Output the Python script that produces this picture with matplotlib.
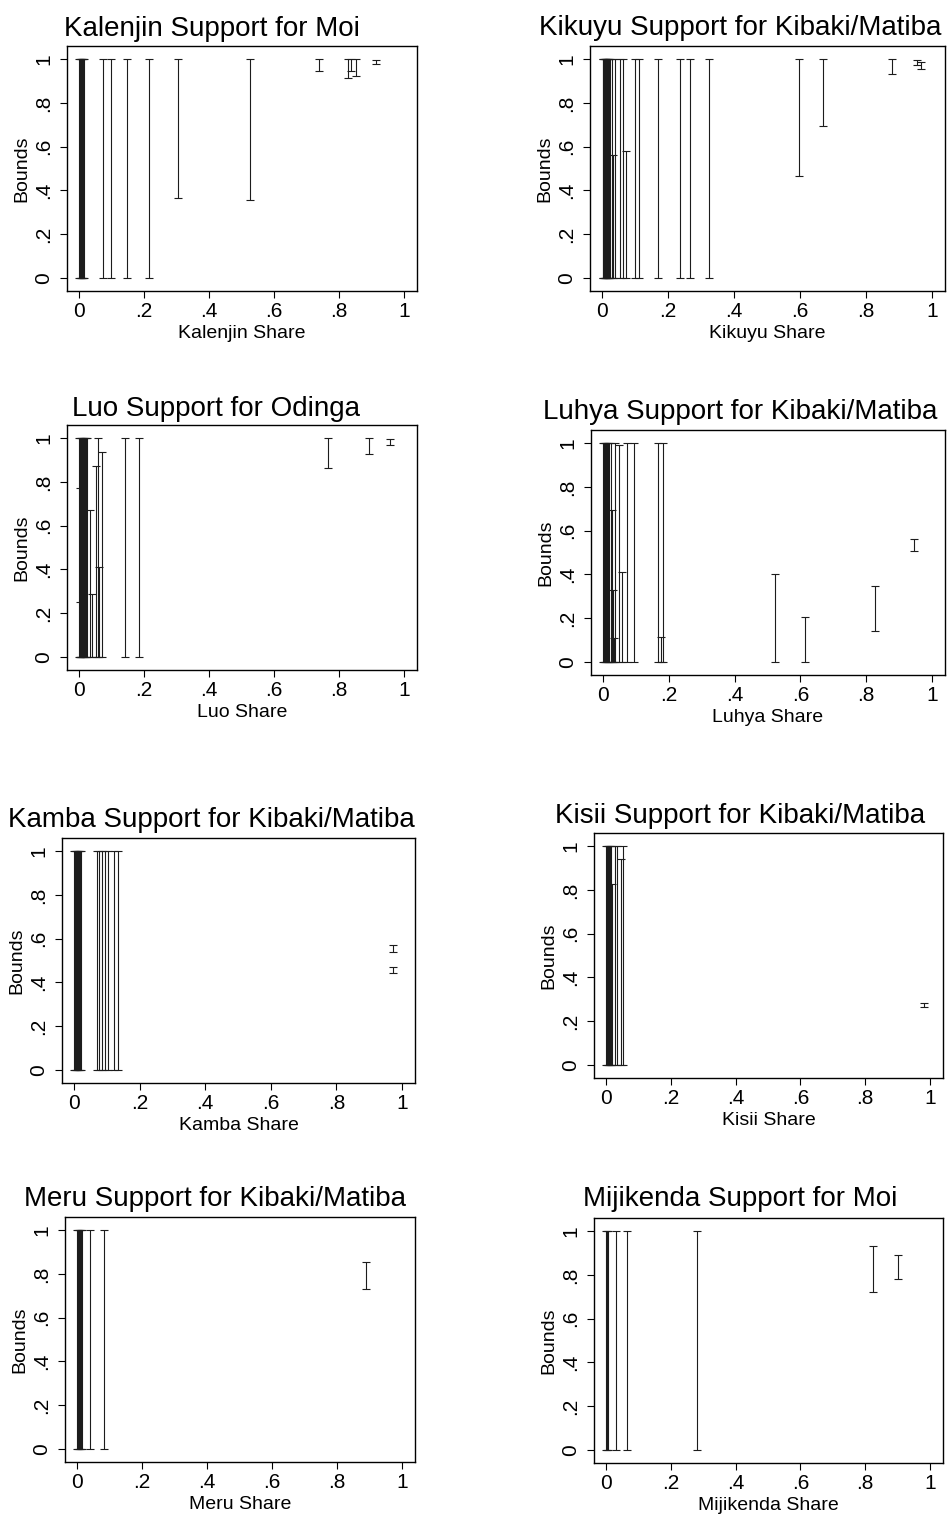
import numpy as np
import matplotlib
matplotlib.use('Agg')
import matplotlib.pyplot as plt

plt.rcParams['font.family'] = ['Liberation Sans', 'DejaVu Sans']

# bounds on group support, by district share of the group
kalenjin_share = [0.001, 0.003, 0.005, 0.007, 0.009, 0.011, 0.013, 0.015,
                  0.073, 0.098, 0.149, 0.214, 0.304, 0.527, 0.738,
                  0.828, 0.838, 0.852, 0.915]
kalenjin_lo = [0, 0, 0, 0, 0, 0, 0, 0, 0, 0, 0, 0, 0.367, 0.355, 0.948,
               0.915, 0.945, 0.924, 0.978]
kalenjin_hi = [1, 1, 1, 1, 1, 1, 1, 1, 1, 1, 1, 1, 1, 1, 1, 1, 1, 1, 0.998]

kikuyu_share = [0.001, 0.003, 0.005, 0.007, 0.009, 0.011, 0.013, 0.015,
                0.017, 0.019, 0.021, 0.024, 0.031, 0.033, 0.038, 0.055,
                0.062, 0.072, 0.099, 0.113, 0.170, 0.237, 0.265, 0.323,
                0.596, 0.671, 0.878, 0.955, 0.968]
kikuyu_lo = [0] * 24 + [0.466, 0.693, 0.932, 0.972, 0.955]
kikuyu_hi = [1, 1, 1, 1, 1, 1, 1, 1, 1, 1, 1, 1, 1, 0.562, 1, 1,
             1, 0.581, 1, 1, 1, 1, 1, 1, 1, 1, 1, 0.995, 0.985]

luo_share = [0.001, 0.004, 0.007, 0.010, 0.013, 0.016, 0.019, 0.022,
             0.002, 0.003, 0.024, 0.034, 0.040, 0.052, 0.058, 0.062,
             0.070, 0.141, 0.186, 0.767, 0.892, 0.957]
luo_lo = [0] * 19 + [0.862, 0.927, 0.970]
luo_hi = [1, 1, 1, 1, 1, 1, 1, 1, 0.772, 0.25, 1, 0.673, 0.288, 0.874,
          1, 0.409, 0.938, 1, 1, 1, 1, 0.998]

luhya_share = [0.001, 0.004, 0.007, 0.010, 0.013, 0.016, 0.019, 0.023,
               0.028, 0.030, 0.032, 0.035, 0.048, 0.058, 0.074, 0.095,
               0.168, 0.176, 0.181, 0.522, 0.613, 0.827, 0.946]
luhya_lo = [0] * 21 + [0.143, 0.507]
luhya_hi = [1, 1, 1, 1, 1, 1, 1, 1, 0.693, 0.33, 0.109, 1, 0.99, 0.413,
            1, 1, 1, 0.112, 1, 0.402, 0.206, 0.347, 0.563]

kamba_share = [0.001, 0.004, 0.007, 0.010, 0.013, 0.016, 0.019, 0.022,
               0.069, 0.077, 0.084, 0.094, 0.102, 0.122, 0.133,
               0.972, 0.972]
kamba_lo = [0] * 15 + [0.540, 0.441]
kamba_hi = [1] * 15 + [0.571, 0.472]

kisii_share = [0.001, 0.004, 0.007, 0.010, 0.013, 0.016, 0.018, 0.027,
               0.034, 0.047, 0.054, 0.981]
kisii_lo = [0] * 11 + [0.266]
kisii_hi = [1, 1, 1, 1, 1, 1, 0.828, 1, 1, 0.942, 1, 0.285]

meru_share = [0.001, 0.004, 0.007, 0.010, 0.013, 0.016, 0.041, 0.084, 0.890]
meru_lo = [0, 0, 0, 0, 0, 0, 0, 0, 0.731]
meru_hi = [1, 1, 1, 1, 1, 1, 1, 1, 0.853]

mijikenda_share = [0.001, 0.003, 0.005, 0.032, 0.065, 0.281, 0.825, 0.902]
mijikenda_lo = [0, 0, 0, 0, 0, 0, 0.720, 0.783]
mijikenda_hi = [1, 1, 1, 1, 1, 1, 0.933, 0.889]

titles = ['Kalenjin Support for Moi', 'Kikuyu Support for Kibaki/Matiba',
          'Luo Support for Odinga', 'Luhya Support for Kibaki/Matiba',
          'Kamba Support for Kibaki/Matiba', 'Kisii Support for Kibaki/Matiba',
          'Meru Support for Kibaki/Matiba', 'Mijikenda Support for Moi']
xlabels = ['Kalenjin Share', 'Kikuyu Share', 'Luo Share', 'Luhya Share',
           'Kamba Share', 'Kisii Share', 'Meru Share', 'Mijikenda Share']
shares = [kalenjin_share, kikuyu_share, luo_share, luhya_share,
          kamba_share, kisii_share, meru_share, mijikenda_share]
lows = [kalenjin_lo, kikuyu_lo, luo_lo, luhya_lo,
        kamba_lo, kisii_lo, meru_lo, mijikenda_lo]
highs = [kalenjin_hi, kikuyu_hi, luo_hi, luhya_hi,
         kamba_hi, kisii_hi, meru_hi, mijikenda_hi]

tick_vals = [0, 0.2, 0.4, 0.6, 0.8, 1]
tick_labels = ['0', '.2', '.4', '.6', '.8', '1']

W, H = 947, 1520
# plot box in pixels (left, top, right, bottom), title centre x and baseline
layout = [
    (67, 46, 417, 291, 212, 36),
    (590, 46, 945, 291, 740, 35),
    (67, 425, 417, 670, 216, 416),
    (591, 430, 945, 675, 740, 419),
    (62, 838, 415, 1083, 211, 827),
    (594, 833, 943, 1078, 740, 823),
    (65, 1217, 415, 1462, 215, 1206),
    (594, 1218, 943, 1463, 740, 1206),
]


def plot_bounds(ax, share, lo, hi, xlabel):
    share = np.array(share)
    lo = np.array(lo)
    hi = np.array(hi)
    ax.errorbar(share, lo, yerr=[np.zeros_like(lo), hi - lo], fmt='none',
                ecolor='#1c1c1c', elinewidth=0.8, capsize=2.6, capthick=0.8)
    ax.set_xlim(-0.037, 1.04)
    ax.set_ylim(-0.06, 1.06)
    ax.set_xticks(tick_vals)
    ax.set_xticklabels(tick_labels)
    ax.set_yticks(tick_vals)
    ax.set_yticklabels(tick_labels)
    ax.tick_params(direction='out', length=5, width=0.8, labelsize=15)
    ax.tick_params(axis='x', pad=3)
    ax.tick_params(axis='y', pad=5, labelrotation=90)
    for lab in ax.get_yticklabels():
        lab.set_va('center')
    for sp in ax.spines.values():
        sp.set_linewidth(1.0)
    ax.set_xlabel(xlabel, fontsize=14, labelpad=3)
    ax.set_ylabel('Bounds', fontsize=14, labelpad=3)


fig = plt.figure(figsize=(W / 100, H / 100), dpi=100)
for i in range(8):
    l, t, r, b, cx, base = layout[i]
    ax = fig.add_axes([l / W, 1 - b / H, (r - l) / W, (b - t) / H])
    plot_bounds(ax, shares[i], lows[i], highs[i], xlabels[i])
    fig.text(cx / W, 1 - base / H, titles[i], ha='center', va='baseline',
             fontsize=20)

fig.savefig('out.png', dpi=100)
